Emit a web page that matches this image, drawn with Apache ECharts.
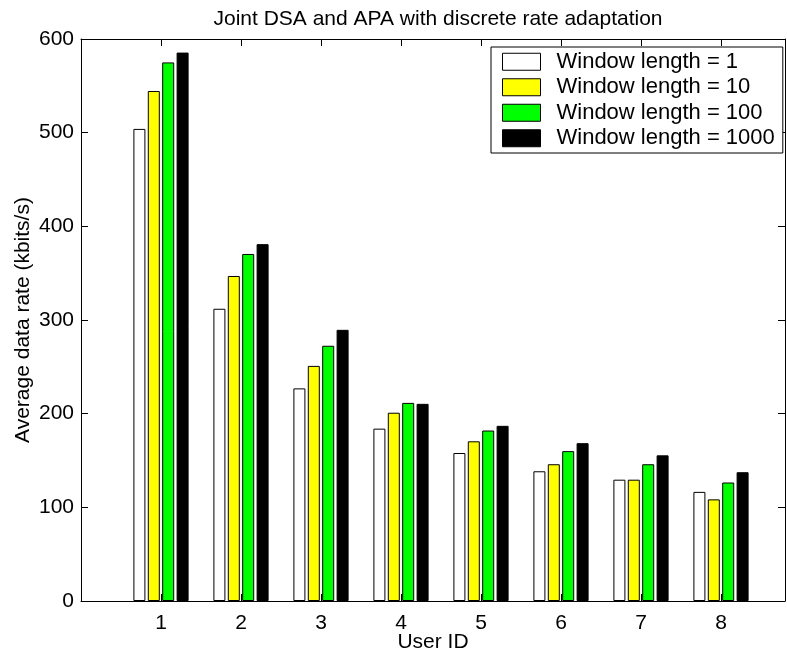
<!DOCTYPE html>
<html>
<head>
<meta charset="utf-8">
<script src="https://cdn.jsdelivr.net/npm/echarts@6/dist/echarts.min.js"></script>
<style>
  html, body { margin: 0; padding: 0; background: #fff; }
  #chart { width: 787px; height: 657px; }
</style>
</head>
<body>
<div id="chart"></div>
<script>
// User IDs along the x axis
const userIds = [1, 2, 3, 4, 5, 6, 7, 8];

// Average data rate (kbits/s) per user, one array per window length
const win1    = [504, 312, 227, 184, 158, 138.5, 129.5, 116.5];
const win10   = [544.5, 347, 251, 201, 170.5, 146, 129.5, 108.5];
const win100  = [575, 370.5, 272.5, 211.5, 182, 160, 146, 126.5];
const win1000 = [585.5, 381, 289.5, 210.5, 187, 168.5, 155.5, 137.5];

const seriesNames = ['Window length = 1', 'Window length = 10', 'Window length = 100', 'Window length = 1000'];
const seriesColors = ['#ffffff', '#ffff00', '#00ff00', '#000000'];
const seriesValues = [win1, win10, win100, win1000];

const yTicks = [0, 100, 200, 300, 400, 500, 600];

const FONT = "'Liberation Sans', Arial, Helvetica, sans-serif";

const chart = echarts.init(document.getElementById('chart'), null, { renderer: 'canvas' });

const axisLineStyle = { show: true, onZero: false, lineStyle: { color: '#000', width: 1 } };
const tickStyle = { show: true, inside: true, length: 7, lineStyle: { color: '#000', width: 1 } };

const option = {
  backgroundColor: '#fff',
  animation: false,
  title: {
    text: 'Joint DSA and APA with discrete rate adaptation',
    left: 433,
    textAlign: 'center',
    top: 4,
    textStyle: { fontFamily: FONT, fontSize: 21, fontWeight: 'normal', color: '#000' }
  },
  legend: {
    data: seriesNames,
    orient: 'vertical',
    left: 491,
    top: 47,
    itemWidth: 38,
    itemHeight: 17,
    itemGap: 0,
    padding: [2, 8, 2, 11],
    backgroundColor: '#fff',
    borderColor: '#000',
    borderWidth: 1,
    borderRadius: 0,
    icon: 'rect',
    itemStyle: { borderColor: '#000', borderWidth: 1 },
    textStyle: { fontFamily: FONT, fontSize: 22, color: '#000', lineHeight: 25.5, padding: [0, 0, 0, 11] }
  },
  grid: { left: 81, right: 2, top: 39, bottom: 56, containLabel: false, outerBoundsMode: 'none' },
  xAxis: [
    {
      type: 'value',
      min: 0,
      max: 8.8,
      interval: 1,
      position: 'bottom',
      name: 'User ID',
      nameLocation: 'middle',
      nameGap: 31,
      nameMoveOverlap: false,
      nameTextStyle: { fontFamily: FONT, fontSize: 21, color: '#000' },
      axisLine: axisLineStyle,
      axisTick: tickStyle,
      splitLine: { show: false },
      axisLabel: {
        fontFamily: FONT, fontSize: 21, color: '#000', margin: 12,
        showMaxLabel: false,
        formatter: v => (userIds.indexOf(v) >= 0 ? String(v) : '')
      }
    },
    {
      type: 'value',
      min: 0,
      max: 8.8,
      interval: 1,
      position: 'top',
      axisLine: axisLineStyle,
      axisTick: tickStyle,
      splitLine: { show: false },
      axisLabel: { show: false }
    }
  ],
  yAxis: [
    {
      type: 'value',
      min: yTicks[0],
      max: yTicks[yTicks.length - 1],
      interval: 100,
      position: 'left',
      name: 'Average data rate (kbits/s)',
      nameLocation: 'middle',
      nameGap: 47,
      nameMoveOverlap: false,
      nameRotate: 90,
      nameTextStyle: { fontFamily: FONT, fontSize: 21, color: '#000' },
      axisLine: axisLineStyle,
      axisTick: tickStyle,
      splitLine: { show: false },
      axisLabel: { fontFamily: FONT, fontSize: 21, color: '#000', margin: 7 }
    },
    {
      type: 'value',
      min: yTicks[0],
      max: yTicks[yTicks.length - 1],
      interval: 100,
      position: 'right',
      axisLine: axisLineStyle,
      axisTick: tickStyle,
      splitLine: { show: false },
      axisLabel: { show: false }
    }
  ],
  series: seriesNames.map((name, i) => ({
    name: name,
    type: 'bar',
    xAxisIndex: 0,
    yAxisIndex: 0,
    barWidth: 12,
    barGap: '20%',
    itemStyle: { color: seriesColors[i], borderColor: '#000', borderWidth: 1 },
    emphasis: { disabled: true },
    data: userIds.map((u, k) => [u, seriesValues[i][k]])
  }))
};

chart.setOption(option);
</script>
</body>
</html>
